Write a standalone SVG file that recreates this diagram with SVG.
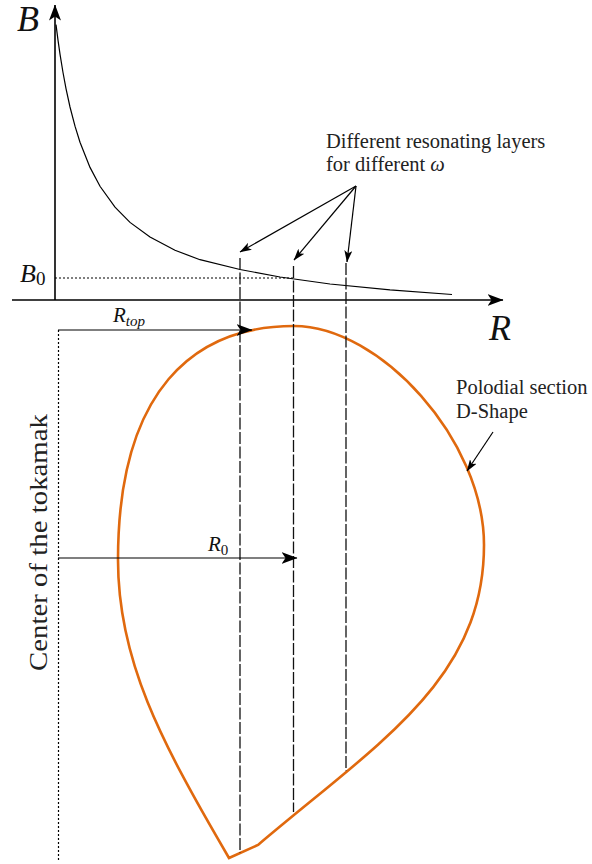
<svg xmlns="http://www.w3.org/2000/svg" width="592" height="864" viewBox="0 0 592 864">
<style>
.ln{stroke:#000;fill:none;stroke-width:1.2}
.ax{stroke:#000;fill:none;stroke-width:1.6}
.dash{stroke:#111;fill:none;stroke-width:1.3;stroke-dasharray:12 2.5}
.dot{stroke:#000;fill:none;stroke-width:1.2;stroke-dasharray:2 2}
.t{font-family:"Liberation Serif","Times New Roman","DejaVu Serif",serif;fill:#222}
.m{font-family:"Liberation Serif","Times New Roman","DejaVu Serif",serif;font-style:italic;fill:#111}
.shape{stroke:#E0690E;fill:none;stroke-width:2.6;stroke-linejoin:miter}
</style>
<defs>
<marker id="big" markerUnits="userSpaceOnUse" viewBox="0 0 16 12" markerWidth="16" markerHeight="12" refX="15.5" refY="6" orient="auto">
<path d="M0,0 L16,6 L0,12 L4,6 Z" fill="#000"/>
</marker>
<marker id="sm" markerUnits="userSpaceOnUse" viewBox="0 0 12 8" markerWidth="12" markerHeight="8" refX="11.5" refY="4" orient="auto">
<path d="M0,0 L12,4 L0,8 L3,4 Z" fill="#000"/>
</marker>
</defs>

<g id="axes">
<line class="ax" x1="55" y1="300" x2="55" y2="5" marker-end="url(#big)"/>
<line class="ax" x1="12" y1="300" x2="503" y2="300" marker-end="url(#big)"/>
<text class="m" x="17" y="31" font-size="36">B</text>
<text class="m" x="489" y="340" font-size="36">R</text>
<text class="m" x="20" y="282" font-size="26">B<tspan font-style="normal" font-size="19" dy="3">0</tspan></text>
<line class="dot" x1="55" y1="278" x2="293" y2="278"/>
</g>

<g id="field-curve">
<polyline class="ln" stroke-width="1.5" points="56,24.7 58,40.2 60,54.1 63,72.5 66,88.6 70,107 75,126.2 80,142.2 90,167.4 100,186.3 115,207.2 130,222.4 150,237.1 175,250.3 200,259.7 240,269.5 280,277 330,284 390,289.9 452,294.5"/>
</g>

<g id="plasma-shape">
<path class="shape" d="M229,858 L258,845 C378,743 484,680 484,545 C484,440 380,326 294,326 C194,326 118,390 118,560 C118,660 160,740 229,858 Z"/>
</g>

<g id="center-line">
<line class="dot" x1="58.5" y1="330" x2="58.5" y2="862" stroke-dasharray="2 1.5"/>
<text class="t" transform="translate(47,671) rotate(-90)" font-size="26" textLength="257" lengthAdjust="spacingAndGlyphs">Center of the tokamak</text>
</g>

<g id="resonance-label">
<text class="t" x="326" y="148" font-size="20.5">Different resonating layers</text>
<text class="t" x="326" y="171" font-size="20.5">for different <tspan font-style="italic">ω</tspan></text>
</g>

<g id="section-label">
<text class="t" x="456" y="394" font-size="20.5">Polodial section</text>
<text class="t" x="456" y="418" font-size="20.5">D-Shape</text>
</g>

<g id="rtop-label">
<text class="m" x="113" y="322" font-size="21">R<tspan font-size="15" dy="4">top</tspan></text>
</g>

<g id="r0-label">
<text class="m" x="208" y="551" font-size="21">R<tspan font-style="normal" font-size="15" dy="4">0</tspan></text>
</g>

<g id="connectors">
<line class="dash" x1="240" y1="258" x2="240" y2="853"/>
<line class="dash" x1="293.5" y1="266" x2="293.5" y2="812"/>
<line class="dash" x1="346" y1="263" x2="346" y2="771" stroke="#444"/>
<line class="ln" x1="356" y1="186" x2="240" y2="252" marker-end="url(#sm)"/>
<line class="ln" x1="356" y1="186" x2="294" y2="260" marker-end="url(#sm)"/>
<line class="ln" x1="356" y1="186" x2="347" y2="262" marker-end="url(#sm)"/>
<line class="ln" x1="58" y1="330" x2="252" y2="330" marker-end="url(#big)"/>
<line class="ln" x1="58" y1="558" x2="297" y2="558" marker-end="url(#big)"/>
<line class="ln" x1="493" y1="432" x2="467" y2="471" marker-end="url(#sm)"/>
</g>
</svg>
